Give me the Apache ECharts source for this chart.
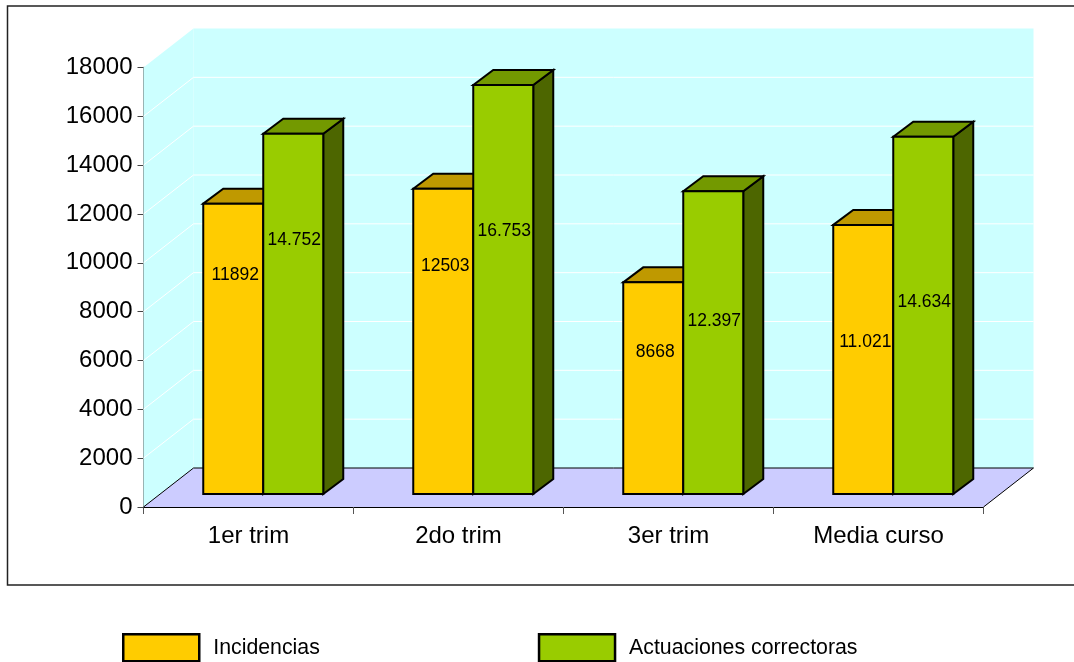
<!DOCTYPE html>
<html><head><meta charset="utf-8">
<style>html,body{margin:0;padding:0;background:#fff}#c{width:1074px;height:662px}</style>
<script src="https://cdn.jsdelivr.net/npm/echarts@6/dist/echarts.min.js"></script>
</head><body><div id="c"></div>
<script>
const categories = ['1er trim', '2do trim', '3er trim', 'Media curso'];
const incidencias = [11892, 12503, 8668, 11021];
const actuaciones = [14752, 16753, 12397, 14634];
const incidenciasLabels = ['11892', '12503', '8668', '11.021'];
const actuacionesLabels = ['14.752', '16.753', '12.397', '14.634'];
// value-axis height at which each hand-placed data label sits
const incidenciasLabelAt = [8960, 9340, 5810, 6230];
const actuacionesLabelAt = [10400, 10780, 7090, 7860];
const yTicks = [0, 2000, 4000, 6000, 8000, 10000, 12000, 14000, 16000, 18000];

const FONT = '"Liberation Sans", Arial, sans-serif';
const WALL = {dx: 50, dy: -39};
const BAR = {dx: 20, dy: -15, shiftX: 14.75, shiftY: -13, width: 60};

function poly(points, fill, stroke, lw) {
  return {type: 'polygon', shape: {points}, style: {fill, stroke: stroke || 'none', lineWidth: lw || 0, lineJoin: 'miter'}};
}
function line(a, b, stroke, lw) {
  return {type: 'line', shape: {x1: a[0], y1: a[1], x2: b[0], y2: b[1]}, style: {stroke, lineWidth: lw}};
}

function renderScene(params, api) {
  const c = params.coordSys;
  const L = c.x, R = c.x + c.width, B = c.y + c.height, T = c.y;
  const d = WALL;
  const ch = [];
  ch.push(poly([[L, B], [L + d.dx, B + d.dy], [L + d.dx, T + d.dy], [L, T]], '#CCFFFF'));
  ch.push(poly([[L + d.dx, B + d.dy], [R + d.dx, B + d.dy], [R + d.dx, T + d.dy], [L + d.dx, T + d.dy]], '#CCFFFF'));
  yTicks.slice(1, -1).forEach(t => {
    const y = api.coord([0, t])[1];
    ch.push(line([L, y], [L + d.dx, y + d.dy], '#fff', 1));
    ch.push(line([L + d.dx, y + d.dy], [R + d.dx, y + d.dy], '#fff', 1));
  });
  ch.push(poly([[L, B], [L + d.dx, B + d.dy], [R + d.dx, B + d.dy], [R, B]], '#CCCCFF'));
  ch.push(line([L, B], [L + d.dx, B + d.dy], '#000', 1));
  ch.push(line([L + d.dx, B + d.dy], [R + d.dx, B + d.dy], '#000', 1));
  ch.push(line([R + d.dx, B + d.dy], [R, B], '#000', 1));
  return {type: 'group', children: ch};
}

function barRenderer(side, labels, labelAt, cFront, cTop, cSide, labelDx) {
  return function (params, api) {
    const i = api.value(0), v = api.value(1);
    const top = api.coord([i, v]), base = api.coord([i, 0]);
    const cx = top[0] + BAR.shiftX;
    const x0 = side < 0 ? cx - BAR.width : cx, x1 = x0 + BAR.width;
    const yT = top[1] + BAR.shiftY, yB = base[1] + BAR.shiftY;
    const s = '#000', lw = 2;
    return {type: 'group', children: [
      poly([[x1, yT], [x1 + BAR.dx, yT + BAR.dy], [x1 + BAR.dx, yB + BAR.dy], [x1, yB]], cSide, s, lw),
      poly([[x0, yT], [x0 + BAR.dx, yT + BAR.dy], [x1 + BAR.dx, yT + BAR.dy], [x1, yT]], cTop, s, lw),
      {type: 'rect', shape: {x: x0, y: yT, width: BAR.width, height: yB - yT}, style: {fill: cFront, stroke: s, lineWidth: lw}},
      {type: 'text', z2: 50, style: {
        text: labels[i], x: (x0 + x1) / 2 + labelDx,
        y: api.coord([i, labelAt[i]])[1] + BAR.shiftY,
        align: 'center', verticalAlign: 'middle', font: '17.5px ' + FONT, fill: '#000'}}
    ]};
  };
}

const chart = echarts.init(document.getElementById('c'), null, {renderer: 'canvas'});
chart.setOption({
  animation: false,
  backgroundColor: '#fff',
  graphic: [{type: 'polyline', z: -10, shape: {points: [[1074, 6], [7.5, 6], [7.5, 585], [1074, 585]]}, style: {fill: 'none', stroke: '#222', lineWidth: 1.5}}],
  grid: {left: 143.5, right: 90.5, top: 67.5, bottom: 155},
  legend: {
    left: 122, top: 633, padding: 0, itemWidth: 76, itemHeight: 27, itemGap: 218,
    textStyle: {fontFamily: FONT, fontSize: 21.3, color: '#000', padding: [0, 0, 0, 9]},
    data: [
      {name: 'Incidencias', icon: 'rect', itemStyle: {color: '#FFCC00', borderColor: '#000', borderWidth: 2.5}},
      {name: 'Actuaciones correctoras', icon: 'rect', itemStyle: {color: '#99CC00', borderColor: '#000', borderWidth: 2.5}}
    ]
  },
  xAxis: {
    type: 'category', data: categories, boundaryGap: true,
    axisLine: {lineStyle: {color: '#000', width: 1}, onZero: false},
    axisTick: {show: true, alignWithLabel: false, length: 7, lineStyle: {color: '#555'}},
    axisLabel: {fontFamily: FONT, fontSize: 24, color: '#000', margin: 17}
  },
  yAxis: {
    type: 'value', min: 0, max: 18000, interval: 2000,
    axisLine: {show: true, lineStyle: {color: '#333', width: 1.5}},
    axisTick: {show: true, length: 6, lineStyle: {color: '#444'}},
    splitLine: {show: false},
    axisLabel: {fontFamily: FONT, fontSize: 24, color: '#000', margin: 11, formatter: v => String(v)}
  },
  series: [
    {type: 'custom', name: 'scene', silent: true, z: 1, renderItem: renderScene, data: [[0, 0]], encode: {x: 0, y: 1}, clip: false},
    {type: 'custom', name: 'Incidencias', z: 3, clip: false, itemStyle: {color: '#FFCC00'},
      renderItem: barRenderer(-1, incidenciasLabels, incidenciasLabelAt, '#FFCC00', '#BF9900', '#806600', 2),
      encode: {x: 0, y: 1}, data: incidencias.map((v, i) => [i, v])},
    {type: 'custom', name: 'Actuaciones correctoras', z: 4, clip: false, itemStyle: {color: '#99CC00'},
      renderItem: barRenderer(1, actuacionesLabels, actuacionesLabelAt, '#99CC00', '#739900', '#4D6600', 1),
      encode: {x: 0, y: 1}, data: actuaciones.map((v, i) => [i, v])}
  ]
});
</script></body></html>
